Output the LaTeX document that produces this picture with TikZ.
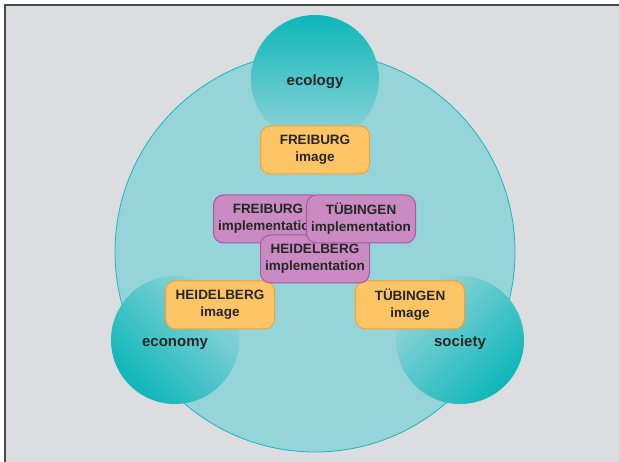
\documentclass[tikz,border=0pt]{standalone}
\usepackage{fontspec}
\setmainfont{Liberation Sans}
\usetikzlibrary{shapes}

\definecolor{bggray}{HTML}{DCDDE0}
\definecolor{framegray}{HTML}{4A4A4A}
\definecolor{bigteal}{HTML}{95D5DA}
\definecolor{tealline}{HTML}{1CB6BB}
\definecolor{darkteal}{HTML}{0DB7B9}
\definecolor{imgfill}{HTML}{FDC566}
\definecolor{imgline}{HTML}{F5A12E}
\definecolor{implfill}{HTML}{C98BC1}
\definecolor{implline}{HTML}{A957A2}
\definecolor{textdark}{HTML}{262626}

\begin{document}
\begin{tikzpicture}[x=1pt,y=-1pt,text=textdark]
  \tikzset{pillar/.style={circle,minimum size=128pt,inner sep=0pt,text height=17pt,text depth=3pt,
                          font=\fontsize{15}{18}\selectfont\bfseries},
           box/.style={rectangle,rounded corners=10pt,minimum width=109pt,minimum height=48pt,inner sep=0pt,
                       align=center,line width=1pt,font=\fontsize{13.5}{17}\selectfont\bfseries},
           imagebox/.style={box,draw=imgline,fill=imgfill},
           implbox/.style={box,draw=implline,fill=implfill}}
  \useasboundingbox (0,0) rectangle (619,462);
  \fill[white] (0,0) rectangle (619,462);
  \fill[bggray] (5,5) rectangle (619,462);
  \draw[framegray,line width=1.5pt] (5,462) -- (5,5) -- (619,5);
  % the whole
  \node[circle,draw=tealline,fill=bigteal,minimum size=400pt,line width=0.8pt] (whole) at (315,252) {};
  % three pillars
  \node[pillar,top color=darkteal,bottom color=bigteal] (ecology) at (315,79) {ecology};
  \node[pillar,top color=bigteal,bottom color=darkteal,shading angle=-45] (economy) at (175,340) {economy};
  \node[pillar,top color=bigteal,bottom color=darkteal,shading angle=45] (society) at (460,340) {society};
  % images
  \node[imagebox] (fimage) at (315,150) {FREIBURG\\image};
  \node[imagebox] (himage) at (220,305) {HEIDELBERG\\image};
  \node[imagebox] (timage) at (410,305) {TÜBINGEN\\image};
  % implementations
  \node[implbox] (fimpl) at (268,219) {FREIBURG\\implementation};
  \node[implbox] (himpl) at (315,259) {HEIDELBERG\\implementation};
  \node[implbox] (timpl) at (361,219) {TÜBINGEN\\implementation};
\end{tikzpicture}
\end{document}
